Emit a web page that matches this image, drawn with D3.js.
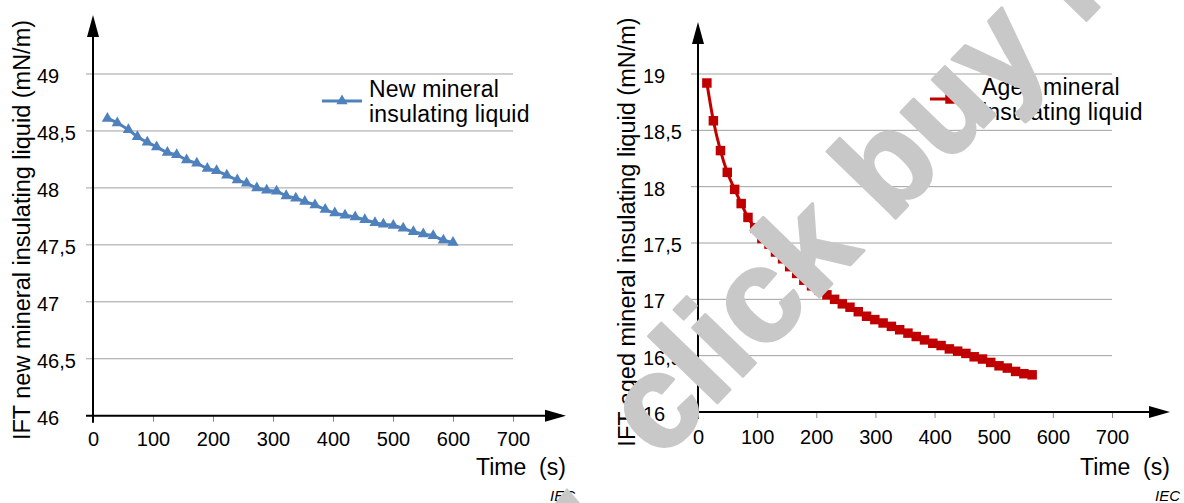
<!DOCTYPE html>
<html>
<head>
<meta charset="utf-8">
<script src="https://cdn.jsdelivr.net/npm/d3@7"></script>
<style>
  body { margin: 0; background: #fff; }
  text { font-family: "Liberation Sans", Arial, sans-serif; fill: #000; }
</style>
</head>
<body>
<div id="chart"></div>
<script>
// ---------------------------------------------------------------------------
// DATA
// ---------------------------------------------------------------------------
const xTicks = [0, 100, 200, 300, 400, 500, 600, 700];
const newYTicks = [46, 46.5, 47, 47.5, 48, 48.5, 49];
const agedYTicks = [16, 16.5, 17, 17.5, 18, 18.5, 19];

// new mineral insulating liquid: time (s) / IFT (mN/m)
const newTimes = [24, 40.5, 59, 74, 90.5, 106, 124, 139.5, 156, 173, 190.5, 206,
  223, 240.5, 256, 273, 289.5, 306, 322, 338, 353, 370, 387, 403, 420, 437, 453,
  470, 484, 500.5, 517, 534, 550.5, 567, 584, 600];
const newIFT = [48.61, 48.57, 48.51, 48.45, 48.40, 48.36, 48.31, 48.29, 48.245,
  48.216, 48.17, 48.15, 48.11, 48.07, 48.04, 48.00, 47.98, 47.97, 47.93, 47.91,
  47.88, 47.85, 47.81, 47.78, 47.76, 47.745, 47.72, 47.695, 47.68, 47.67, 47.645,
  47.615, 47.595, 47.58, 47.54, 47.52];

// aged mineral insulating liquid: time (s) / IFT (mN/m)
const agedTimes = [15, 26, 38, 49.5, 62, 73, 84.5, 96, 108, 120, 131, 143, 155,
  167, 179, 192, 205, 218, 231, 244, 257, 271, 285, 299, 313, 327, 341, 355, 369,
  383, 397, 411, 425, 439, 453, 467, 481, 495, 509, 523, 537, 551, 565];
const agedIFT = [18.92, 18.585, 18.32, 18.127, 17.976, 17.85, 17.727, 17.635,
  17.54, 17.49, 17.42, 17.36, 17.29, 17.23, 17.17, 17.12, 17.08, 17.04, 17.00,
  16.96, 16.93, 16.89, 16.85, 16.82, 16.79, 16.76, 16.73, 16.70, 16.67, 16.64,
  16.61, 16.59, 16.56, 16.54, 16.52, 16.49, 16.47, 16.44, 16.41, 16.39, 16.36,
  16.34, 16.33];

// ---------------------------------------------------------------------------
// SVG
// ---------------------------------------------------------------------------
const svg = d3.select('#chart')
  .append('svg')
  .attr('width', 1184)
  .attr('height', 503);

const fmt = d => String(d).replace('.', ',');

function drawPanel(p) {
  const x = d3.scaleLinear().domain([0, 700]).range([p.left, p.right]);
  const y = d3.scaleLinear().domain([p.yTicks[0], p.yTicks[p.yTicks.length - 1]])
    .range([p.bottom, p.top]);
  const g = svg.append('g');

  // gridlines (they also act as the left tick marks)
  g.selectAll('.grid')
    .data(p.yTicks.slice(1))
    .join('line')
    .attr('x1', p.left - 7).attr('x2', x(700))
    .attr('y1', d => y(d)).attr('y2', d => y(d))
    .attr('stroke', '#a0a0a0').attr('stroke-width', 1);

  // y tick labels, left aligned
  g.selectAll('.ylab')
    .data(p.yTicks)
    .join('text')
    .attr('x', p.labelX)
    .attr('y', d => y(d) + 9)
    .style('font-size', '20px')
    .text(fmt);

  // x axis ticks + labels
  const xAxis = d3.axisBottom(x).tickValues(xTicks).tickSize(6)
    .tickPadding(p.tickPad).tickFormat(d => d);
  const ax = g.append('g')
    .attr('transform', `translate(0,${p.bottom})`)
    .call(xAxis);
  ax.select('.domain').remove();
  ax.selectAll('line').attr('stroke', '#888');
  ax.selectAll('text')
    .attr('font-family', null)
    .style('font-size', '20px')
    .attr('fill', '#000');

  // axis lines with arrows
  g.append('line')
    .attr('x1', p.left - 7).attr('x2', p.arrowRight - 18)
    .attr('y1', p.bottom).attr('y2', p.bottom)
    .attr('stroke', '#000').attr('stroke-width', 2);
  g.append('path')
    .attr('d', `M${p.arrowRight},${p.bottom} L${p.arrowRight - 21},${p.bottom - 6} L${p.arrowRight - 21},${p.bottom + 6} Z`)
    .attr('fill', '#000');
  g.append('line')
    .attr('x1', p.left).attr('x2', p.left)
    .attr('y1', p.bottom + 7).attr('y2', p.arrowTop + 18)
    .attr('stroke', '#000').attr('stroke-width', 2);
  g.append('path')
    .attr('d', `M${p.left},${p.arrowTop} L${p.left - 6},${p.arrowTop + 22} L${p.left + 6},${p.arrowTop + 22} Z`)
    .attr('fill', '#000');

  // axis titles
  g.append('text')
    .attr('transform', `translate(${p.titleX},${p.titleY}) rotate(-90)`)
    .attr('text-anchor', 'middle')
    .style('font-size', '23.5px')
    .text(p.yTitle);
  g.append('text')
    .attr('x', p.timeX).attr('y', 475)
    .style('font-size', '23px')
    .attr('xml:space', 'preserve')
    .text('Time  (s)');
  g.append('text')
    .attr('x', p.iecX).attr('y', 501)
    .style('font-size', '15px')
    .style('font-style', 'italic')
    .text('IEC');

  // series
  const pts = p.times.map((t, i) => ({ t, v: p.values[i] }));
  g.append('path')
    .datum(pts)
    .attr('fill', 'none')
    .attr('stroke', p.color)
    .attr('stroke-width', 3)
    .attr('d', d3.line().x(d => x(d.t)).y(d => y(d.v)).curve(d3.curveMonotoneX));
  const sym = d3.symbol().type(p.symbol).size(p.symbolSize);
  g.selectAll('.mk')
    .data(pts)
    .join('path')
    .attr('transform', d => `translate(${x(d.t)},${y(d.v)})`)
    .attr('d', sym)
    .attr('fill', p.color);

  // legend
  const lg = g.append('g').attr('transform', `translate(${p.legX},${p.legY})`);
  lg.append('line')
    .attr('x1', 0).attr('x2', 40)
    .attr('stroke', p.color).attr('stroke-width', 3);
  lg.append('path').attr('transform', 'translate(20,0)').attr('d', sym).attr('fill', p.color);
  p.legend.forEach((s, i) => {
    lg.append('text')
      .attr('x', p.legTextX).attr('y', -4 + i * 25)
      .style('font-size', '23px')
      .style('letter-spacing', '0.2px')
      .text(s);
  });
}

drawPanel({
  left: 93, right: 513, bottom: 415.7, top: 74,
  yTicks: newYTicks, labelX: 37, arrowTop: 15, arrowRight: 566, tickPad: 10,
  titleX: 30, titleY: 230, yTitle: 'IFT new mineral insulating liquid (mN/m)',
  timeX: 476, iecX: 550,
  times: newTimes, values: newIFT, color: '#4f81bd',
  symbol: d3.symbolTriangle, symbolSize: 55,
  legX: 322, legY: 101, legTextX: 47,
  legend: ['New mineral', 'insulating liquid']
});

drawPanel({
  left: 698, right: 1112, bottom: 412, top: 74,
  yTicks: agedYTicks, labelX: 643, arrowTop: 22, arrowRight: 1170, tickPad: 12,
  titleX: 635, titleY: 232, yTitle: 'IFT aged mineral insulating liquid (mN/m)',
  timeX: 1080, iecX: 1155,
  times: agedTimes, values: agedIFT, color: '#c00000',
  symbol: d3.symbolSquare, symbolSize: 90,
  legX: 930, legY: 99, legTextX: 52,
  legend: ['Aged mineral', 'insulating liquid']
});

// watermark drawn on top
svg.append('text')
  .attr('transform', 'translate(660,462) rotate(-46)')
  .style('font-size', '132px')
  .style('font-weight', 'bold')
  .style('fill', '#c8c8c8')
  .style('stroke', '#c8c8c8')
  .style('stroke-width', 3)
  .style('stroke-linejoin', 'round')
  .text('click buy fo');
svg.append('path')
  .attr('d', 'M555,503 L567,488 L580,503 Z')
  .attr('fill', '#c8c8c8');
</script>
</body>
</html>
